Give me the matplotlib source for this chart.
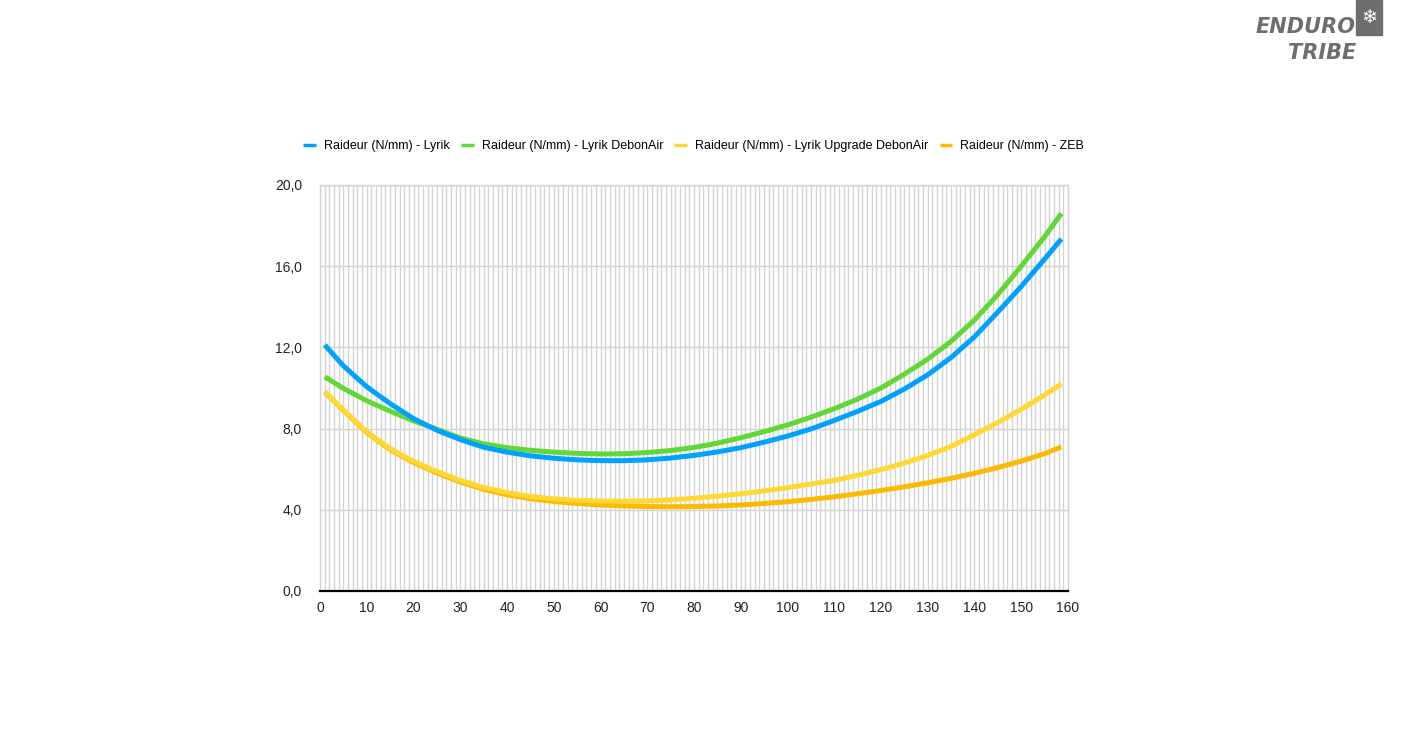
import numpy as np
import matplotlib.pyplot as plt
from matplotlib.patches import Rectangle
from matplotlib.ticker import MultipleLocator

# course (mm) at which the curves were read
course = [1, 5, 10, 15, 20, 25, 30, 35, 40, 45, 50, 55, 60, 65, 70, 75, 80,
          85, 90, 95, 100, 105, 110, 115, 120, 125, 130, 135, 140, 145, 150,
          155, 158.6]

lyrik = [12.12, 11.09, 10.06, 9.23, 8.49, 7.92, 7.46, 7.08, 6.84, 6.66, 6.54,
         6.46, 6.42, 6.42, 6.46, 6.55, 6.68, 6.85, 7.06, 7.33, 7.63, 7.98,
         8.40, 8.85, 9.34, 9.95, 10.65, 11.5, 12.52, 13.74, 15.0, 16.35, 17.34]

lyrik_debonair = [10.55, 9.98, 9.37, 8.86, 8.38, 7.97, 7.54, 7.25, 7.06, 6.93,
                  6.84, 6.78, 6.75, 6.76, 6.82, 6.92, 7.07, 7.28, 7.55, 7.85,
                  8.18, 8.56, 8.98, 9.45, 10.0, 10.68, 11.42, 12.3, 13.35, 14.6,
                  16.0, 17.45, 18.6]

lyrik_upgrade = [9.81, 8.91, 7.84, 7.01, 6.39, 5.89, 5.45, 5.1, 4.85, 4.66,
                 4.54, 4.47, 4.43, 4.42, 4.44, 4.49, 4.57, 4.67, 4.79, 4.93,
                 5.09, 5.27, 5.45, 5.7, 5.98, 6.3, 6.68, 7.12, 7.7, 8.3, 8.95,
                 9.65, 10.2]

zeb = [9.81, 8.89, 7.8, 6.96, 6.33, 5.82, 5.37, 5.01, 4.74, 4.55, 4.41, 4.31,
       4.24, 4.19, 4.16, 4.15, 4.16, 4.19, 4.24, 4.31, 4.4, 4.51, 4.64, 4.79,
       4.95, 5.13, 5.33, 5.55, 5.8, 6.08, 6.4, 6.76, 7.1]

labels = ["Raideur (N/mm) - Lyrik", "Raideur (N/mm) - Lyrik DebonAir",
          "Raideur (N/mm) - Lyrik Upgrade DebonAir", "Raideur (N/mm) - ZEB"]
colors = ["#00A2FF", "#61D836", "#FFD932", "#FDBA00"]

plt.rcParams['font.family'] = ['Liberation Sans', 'DejaVu Sans']

fig = plt.figure(figsize=(14.13, 7.52), dpi=100)
ax = fig.add_axes([0.2265, 0.2141, 0.5293, 0.5399])

series = [lyrik, lyrik_debonair, lyrik_upgrade, zeb]
for i, (serie, lab, col) in enumerate(zip(series, labels, colors)):
    ax.plot(course, serie, color=col, lw=3.6, label=lab, solid_capstyle='butt',
            solid_joinstyle='round', zorder=6 - i)

ax.set_xlim(0, 160)
ax.set_ylim(0, 20)
ax.xaxis.set_major_locator(MultipleLocator(10))
ax.xaxis.set_minor_locator(MultipleLocator(1))
ax.set_yticks(np.arange(0, 21, 4))
ax.set_yticklabels([f"{v:.1f}".replace(".", ",") for v in np.arange(0, 21, 4)])
ax.grid(which='both', axis='x', color='#d4d4d4', lw=1)
ax.grid(which='major', axis='y', color='#d4d4d4', lw=1)
ax.set_axisbelow(True)
ax.tick_params(which='both', length=0, labelsize=10, colors='#222222')
ax.tick_params(axis='y', pad=13)
ax.tick_params(axis='x', pad=7)
for s in ['top', 'right', 'left']:
    ax.spines[s].set_color('#d4d4d4')
    ax.spines[s].set_linewidth(1)
ax.spines['bottom'].set_color('black')
ax.spines['bottom'].set_linewidth(1.6)
ax.spines['bottom'].set_zorder(7)

leg = fig.legend(loc='center', bbox_to_anchor=(0.491, 0.806), ncol=4, frameon=False,
                 fontsize=9, handlelength=1.0, handletextpad=0.65, columnspacing=0.9)
for h in leg.get_lines():
    h.set_linewidth(2.5)

# logo
logo = dict(ha='right', va='baseline', fontsize=15, fontweight='bold', style='italic',
            color='#6e6e6e', family=['DejaVu Sans'])
fig.text(0.9595, 0.956, "ENDURO", **logo)
fig.text(0.9595, 0.921, "TRIBE", **logo)
fig.patches.append(Rectangle((0.9597, 0.953), 0.0187, 0.047, transform=fig.transFigure,
                             color='#6e6e6e'))
fig.text(0.9690, 0.9765, "\u2744", ha='center', va='center', fontsize=14, color='white',
         family=['DejaVu Sans'])

fig.savefig("out.png", dpi=100)
